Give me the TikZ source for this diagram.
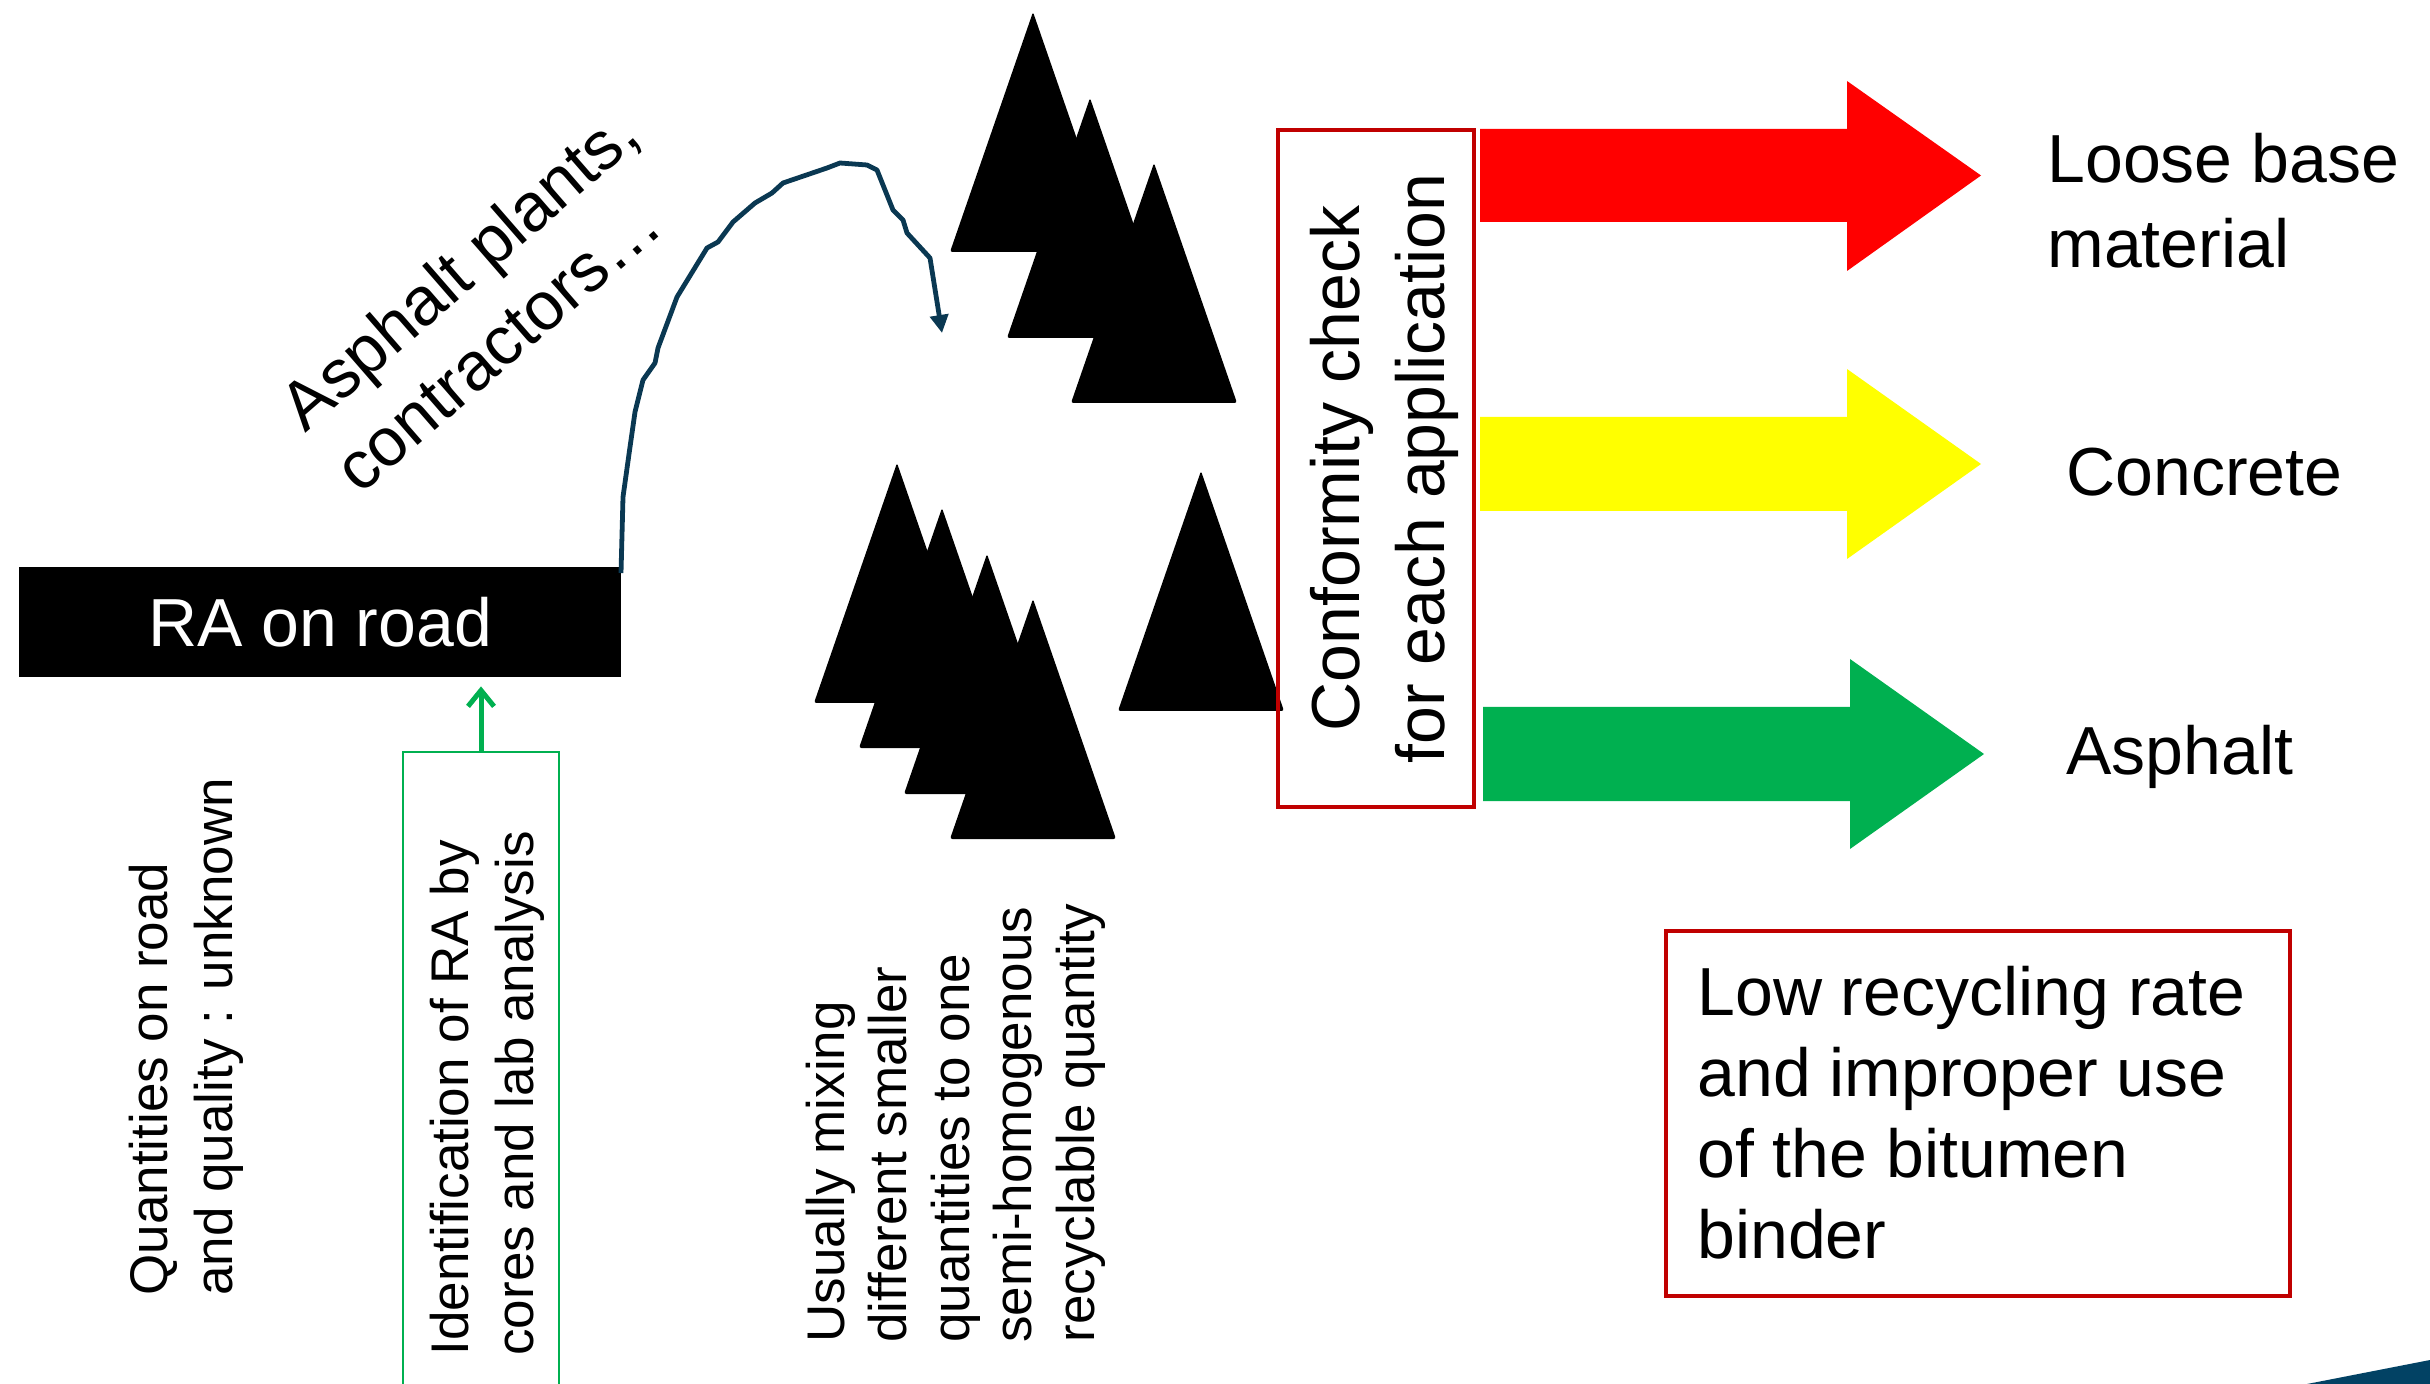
\documentclass[tikz,border=0pt]{standalone}
\usepackage{fontspec}
\setmainfont{Liberation Sans}
\usetikzlibrary{arrows.meta}
\definecolor{boxred}{RGB}{192,0,0}
\definecolor{arrred}{RGB}{255,0,0}
\definecolor{arryellow}{RGB}{255,255,0}
\definecolor{arrgreen}{RGB}{0,176,80}
\definecolor{curveblue}{RGB}{10,56,82}
\definecolor{cornerblue}{RGB}{2,66,100}
\tikzset{
  mountain/.pic={\fill[black, rounded corners=1.2pt] (0,0) -- (83,240) -- (-83,240) -- cycle;},
  redbox/.style={draw=boxred, line width=2pt, inner sep=0pt},
  bigtxt/.style={font=\fontsize{34}{42.5}\selectfont, inner sep=0pt},
  smalltxt/.style={font=\fontsize{26.5}{32.5}\selectfont, inner sep=0pt, align=left},
}
\begin{document}
\begin{tikzpicture}[x=0.5pt, y=-0.5pt]
\useasboundingbox (0,0) rectangle (2430,1384);

% mountains (top group)
\pic at (1033,12) {mountain};
\pic at (1090,98) {mountain};
\pic at (1154,163) {mountain};
% mountains (bottom group)
\pic at (897,463) {mountain};
\pic at (942,508) {mountain};
\pic at (987,554) {mountain};
\pic at (1033,599) {mountain};
\pic at (1201,471) {mountain};

% RA on road box
\node[fill=black, minimum width=301pt, minimum height=55pt, inner sep=0pt,
      text=white, bigtxt] (ra) at (320,622) {RA on road};

% curve
\coordinate (cstart) at (621,573);
\coordinate (cend) at (942,333);
\draw[curveblue, line width=2.4pt, line join=round,
      -{Triangle[length=9pt,width=9pt]}]
  (cstart) -- (623,497) -- (630,447) -- (635,412) -- (643,380) -- (655,363)
  -- (658,348) -- (677,297) -- (707,248) -- (718,242) -- (733,222)
  -- (755,203) -- (772,193) -- (783,183) -- (827,168) -- (840,163)
  -- (867,165) -- (877,170) -- (893,210) -- (903,220) -- (907,233)
  -- (930,258) -- (cend);

% Asphalt plants text (base anchor = last line baseline)
\node[bigtxt, rotate=41, anchor=base west, align=left,
      font=\fontsize{34}{41.5}\selectfont] (plants) at (360,496)
  {Asphalt plants,\\contractors…};

% green box + arrow
\node[draw=arrgreen, line width=1pt, minimum width=78pt, minimum height=324pt,
      inner sep=0pt] (idbox) at (481,1076) {};
\draw[arrgreen, line width=2.5pt, shorten >=4.5pt,
      -{Straight Barb[length=8pt,width=13pt]}] (idbox.north) -- (idbox.north |- ra.south);

% vertical texts (base anchor = last line baseline)
\node[smalltxt, rotate=90, anchor=base west] (quant) at (232,1296)
  {Quantities on road\\and quality : unknown};
\node[smalltxt, rotate=90, anchor=base west] (ident) at (533,1356)
  {Identification of RA by\\cores and lab analysis};
\node[smalltxt, rotate=90, anchor=base west, font=\fontsize{26.5}{31.2}\selectfont] (usual) at (1094,1343)
  {Usually mixing\\different smaller\\quantities to one\\semi-homogenous\\recyclable quantity};

% big arrows
\fill[arrred] (1480,129) -- (1847,129) -- (1847,81) -- (1981,175.5)
  -- (1847,271) -- (1847,222) -- (1480,222) -- cycle;
\fill[arryellow] (1480,417) -- (1847,417) -- (1847,369) -- (1981,464)
  -- (1847,559) -- (1847,511) -- (1480,511) -- cycle;
\fill[arrgreen] (1483,707) -- (1850,707) -- (1850,659) -- (1984,754)
  -- (1850,849) -- (1850,801) -- (1483,801) -- cycle;

% conformity box
\node[redbox, minimum width=98pt, minimum height=338.5pt] (conf) at (1376,468.5) {};
\node[bigtxt, rotate=90, align=center] (conftxt) at (1384,468.5)
  {Conformity check\\for each application};

% right labels
\node[bigtxt, anchor=base west, align=left] (loose) at (2047,268) {Loose base\\material};
\node[bigtxt, anchor=base west] (concrete) at (2066,496) {Concrete};
\node[bigtxt, anchor=base west] (asphalt) at (2066,775) {Asphalt};

% low recycling box
\node[redbox, minimum width=312pt, minimum height=182.5pt] (lowbox) at (1978,1113.5) {};
\node[bigtxt, anchor=base west, align=left, font=\fontsize{34}{40.5}\selectfont] (lowtxt) at (1697,1258)
  {Low recycling rate\\and improper use\\of the bitumen\\binder};

% corner shape
\fill[cornerblue] (2307,1384) -- (2430,1360) -- (2430,1384) -- cycle;
\end{tikzpicture}
\end{document}
